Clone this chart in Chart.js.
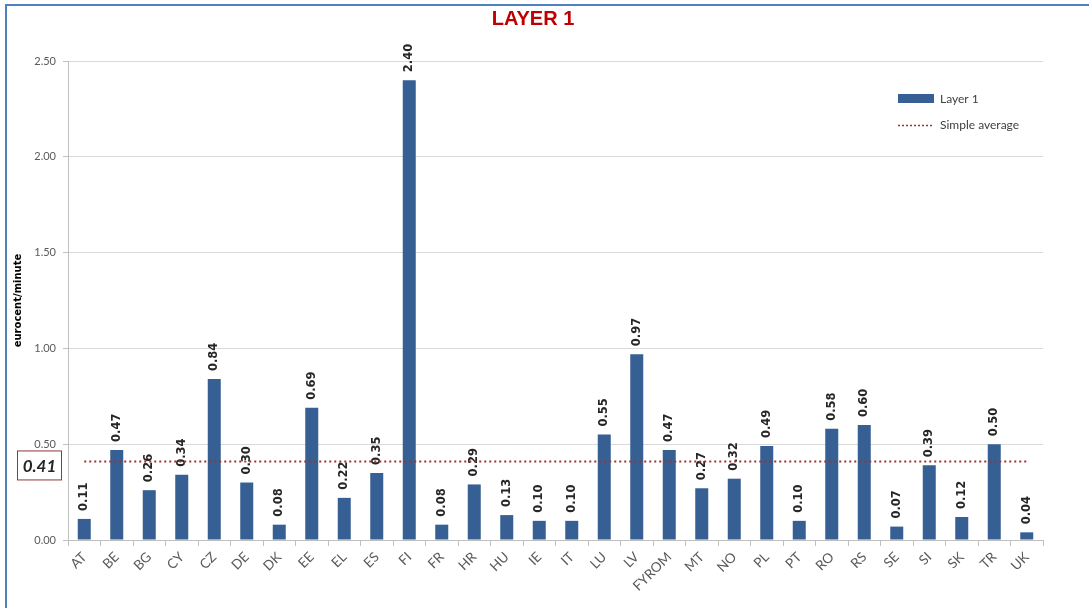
<!DOCTYPE html>
<html>
<head>
<meta charset="utf-8">
<script src="https://cdn.jsdelivr.net/npm/chart.js@4/dist/chart.umd.min.js"></script>
<style>
  html, body { margin: 0; padding: 0; background: #fff; }
  #wrap { position: relative; width: 1089px; height: 608px; overflow: hidden; }
  #frame { position: absolute; left: 5px; top: 4px; width: 1100px; height: 620px;
           border-top: 2px solid #4f81bd; border-left: 2px solid #4f81bd; pointer-events: none; }
  canvas { position: absolute; left: 0; top: 0; }
</style>
</head>
<body>
<div id="wrap">
  <canvas id="layer-chart" width="1089" height="608"></canvas>
  <div id="frame"></div>
</div>
<script>
const COUNTRIES = ['AT', 'BE', 'BG', 'CY', 'CZ', 'DE', 'DK', 'EE', 'EL', 'ES', 'FI', 'FR', 'HR', 'HU', 'IE',
  'IT', 'LU', 'LV', 'FYROM', 'MT', 'NO', 'PL', 'PT', 'RO', 'RS', 'SE', 'SI', 'SK', 'TR', 'UK'];
const LAYER1_VALUES = [0.11, 0.47, 0.26, 0.34, 0.84, 0.30, 0.08, 0.69, 0.22, 0.35, 2.40, 0.08, 0.29, 0.13, 0.10,
  0.10, 0.55, 0.97, 0.47, 0.27, 0.32, 0.49, 0.10, 0.58, 0.60, 0.07, 0.39, 0.12, 0.50, 0.04];
const SIMPLE_AVERAGE = 0.41;
const Y_TICKS = [0, 0.5, 1.0, 1.5, 2.0, 2.5];

const BAR_COLOR = '#365f93';
const AVG_COLOR = '#953735';
const TICK_COLOR = '#595959';

// value labels above bars, drawn right after the bar dataset so the average line stays on top
const barLabels = {
  id: 'barLabels',
  afterDatasetDraw(chart, args) {
    if (args.index !== 0) return;
    const ctx = chart.ctx;
    ctx.save();
    ctx.font = 'bold 11.5px "DejaVu Sans"';
    ctx.fillStyle = '#262626';
    ctx.textAlign = 'left';
    ctx.textBaseline = 'middle';
    args.meta.data.forEach((bar, i) => {
      ctx.save();
      ctx.translate(bar.x, bar.y - 8);
      ctx.rotate(-Math.PI / 2);
      ctx.fillText(LAYER1_VALUES[i].toFixed(2), 0, 0);
      ctx.restore();
    });
    ctx.restore();
  },
};

// legend in the top right corner and the boxed average value on the left
const extras = {
  id: 'extras',
  afterDraw(chart) {
    const ctx = chart.ctx;
    ctx.save();
    ctx.fillStyle = BAR_COLOR;
    ctx.fillRect(898, 94, 36, 9);
    ctx.strokeStyle = AVG_COLOR;
    ctx.lineWidth = 1.5;
    ctx.setLineDash([2, 2]);
    ctx.beginPath();
    ctx.moveTo(898, 125.5);
    ctx.lineTo(934, 125.5);
    ctx.stroke();
    ctx.setLineDash([]);
    ctx.font = '12px Lato';
    ctx.fillStyle = '#404040';
    ctx.textBaseline = 'middle';
    ctx.fillText('Layer 1', 940, 99);
    ctx.fillText('Simple average', 940, 125);

    const y = chart.scales.y.getPixelForValue(SIMPLE_AVERAGE) + 4;
    ctx.strokeStyle = AVG_COLOR;
    ctx.lineWidth = 1;
    ctx.fillStyle = '#fff';
    ctx.fillRect(17.5, y - 14.5, 44, 29);
    ctx.strokeRect(17.5, y - 14.5, 44, 29);
    ctx.fillStyle = '#262626';
    ctx.font = 'italic bold 17px Lato';
    ctx.textAlign = 'center';
    ctx.fillText(SIMPLE_AVERAGE.toFixed(2), 39.5, y + 1);
    ctx.restore();
  },
};

new Chart(document.getElementById('layer-chart'), {
  data: {
    labels: COUNTRIES,
    datasets: [
      {
        type: 'bar',
        label: 'Layer 1',
        data: LAYER1_VALUES,
        backgroundColor: BAR_COLOR,
        borderWidth: 0,
        categoryPercentage: 1,
        barPercentage: 0.4,
        order: 2,
      },
      {
        type: 'line',
        label: 'Simple average',
        data: COUNTRIES.map(() => SIMPLE_AVERAGE),
        borderColor: AVG_COLOR,
        borderWidth: 2,
        borderDash: [2, 3],
        pointRadius: 0,
        fill: false,
        order: 1,
      },
    ],
  },
  options: {
    responsive: false,
    animation: false,
    layout: { padding: { left: 23, right: 46, top: 0, bottom: 0 } },
    plugins: {
      legend: { display: false },
      tooltip: { enabled: false },
      title: {
        display: true,
        text: 'LAYER 1',
        color: '#c00000',
        font: { family: '"Liberation Sans"', size: 20, weight: 'bold', lineHeight: 1.2 },
        padding: { top: 7, bottom: 30 },
      },
    },
    scales: {
      x: {
        offset: true,
        grid: { offset: true, drawOnChartArea: false, color: '#bfbfbf', tickLength: 6 },
        border: { color: '#bfbfbf' },
        ticks: {
          color: TICK_COLOR,
          font: { family: 'Lato', size: 13.5 },
          minRotation: 45,
          maxRotation: 45,
          padding: 3,
          autoSkip: false,
        },
        afterFit: (scale) => { scale.height = 68; },
      },
      y: {
        min: 0,
        max: 2.5,
        afterBuildTicks: (scale) => { scale.ticks = Y_TICKS.map((value) => ({ value })); },
        grid: { color: '#d9d9d9', tickLength: 5, tickColor: '#bfbfbf' },
        border: { color: '#bfbfbf' },
        ticks: {
          color: TICK_COLOR,
          font: { family: 'Lato', size: 11 },
          padding: 7,
          callback: (value) => value.toFixed(2),
        },
        title: {
          display: true,
          text: 'eurocent/minute',
          color: '#000',
          font: { family: '"DejaVu Sans"', size: 10, weight: 'bold', lineHeight: 1.2 },
          padding: { top: -11, bottom: 0 },
        },
        afterFit: (scale) => { scale.width = 45; },
      },
    },
  },
  plugins: [barLabels, extras],
});
</script>
</body>
</html>
